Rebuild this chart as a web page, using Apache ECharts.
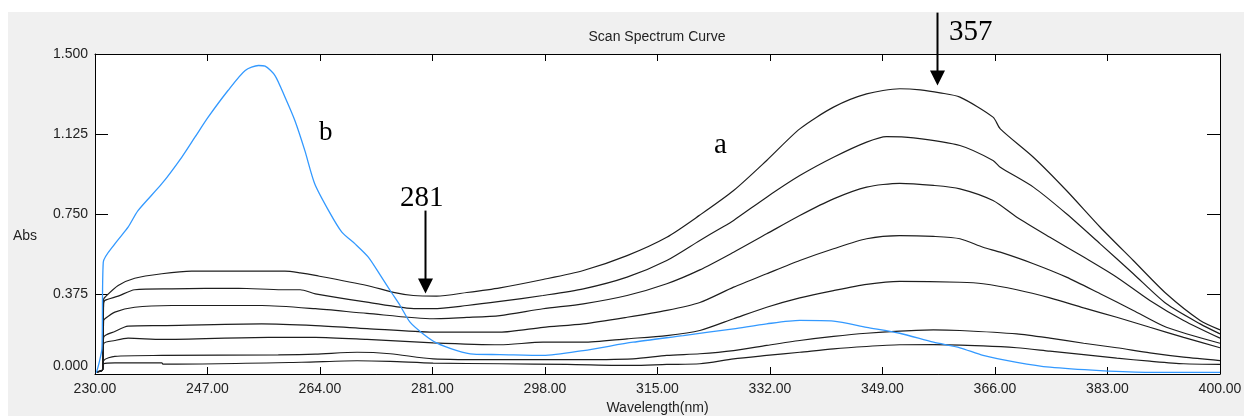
<!DOCTYPE html>
<html><head><meta charset="utf-8">
<script src="https://cdn.jsdelivr.net/npm/echarts@6/dist/echarts.min.js"></script>
<style>html,body{margin:0;padding:0;background:#fff}#c{width:1244px;height:416px}</style>
</head><body><div id="c"></div>
<script>
const xTicks = [230,247,264,281,298,315,332,349,366,383,400];
const yTicks = [0,0.375,0.75,1.125,1.5];

const curveA1 = [[230.3,0.01],[231.15,0.02],[231.3,0.35],[231.5,0.360],[233.5,0.415],[236.0,0.449],[240.1,0.470],[244.6,0.482],[258.7,0.482],[261.0,0.474],[263.3,0.462],[271.1,0.415],[275.1,0.383],[278.1,0.368],[281.6,0.365],[286.2,0.382],[291.2,0.404],[297.7,0.443],[303.8,0.485],[310.4,0.555],[316.4,0.641],[321.4,0.745],[326.5,0.860],[331.5,1.001],[336.5,1.149],[341.6,1.251],[346.6,1.313],[351.6,1.337],[354.7,1.332],[357.7,1.318],[360.7,1.298],[365.7,1.204],[366.8,1.149],[371.8,1.016],[376.8,0.860],[381.9,0.688],[386.9,0.532],[391.9,0.376],[397.0,0.251],[400,0.207]];
const curveA2 = [[230.3,0.01],[231.15,0.02],[231.3,0.33],[231.5,0.345],[233.5,0.365],[236.0,0.395],[241.6,0.399],[251.7,0.402],[258.2,0.395],[261.0,0.395],[263.3,0.376],[271.1,0.337],[278.6,0.306],[281.1,0.306],[286.2,0.321],[291.2,0.340],[297.7,0.368],[303.8,0.399],[310.4,0.454],[316.4,0.532],[321.4,0.626],[324.4,0.681],[326.5,0.720],[331.5,0.829],[336.5,0.930],[341.6,1.016],[346.6,1.087],[349.6,1.113],[353.7,1.107],[360.7,1.071],[365.7,1.001],[366.8,0.969],[371.8,0.876],[376.8,0.751],[381.9,0.610],[386.9,0.470],[391.9,0.329],[397.0,0.235],[400,0.188]];
const curveA3 = [[230.3,0.01],[231.15,0.02],[231.3,0.25],[231.5,0.259],[233.0,0.290],[236.0,0.313],[241.6,0.321],[255.2,0.321],[263.3,0.306],[271.1,0.284],[281.1,0.259],[286.2,0.265],[291.2,0.274],[297.7,0.306],[303.8,0.329],[310.4,0.368],[316.4,0.423],[321.4,0.488],[326.5,0.571],[331.5,0.657],[336.5,0.743],[341.6,0.821],[346.6,0.876],[351.6,0.894],[356.7,0.884],[360.7,0.868],[365.7,0.813],[369.3,0.735],[374.3,0.641],[379.4,0.548],[384.4,0.454],[389.4,0.345],[394.5,0.251],[400,0.168]];
const curveA4 = [[230.3,0.01],[231.15,0.02],[231.3,0.172],[233.0,0.199],[235.0,0.224],[240.1,0.227],[255.2,0.235],[263.3,0.227],[271.1,0.213],[281.1,0.196],[291.2,0.196],[297.7,0.219],[303.8,0.235],[310.4,0.266],[316.4,0.298],[321.4,0.335],[326.5,0.407],[331.5,0.470],[336.5,0.532],[341.6,0.587],[346.6,0.634],[351.6,0.649],[356.7,0.645],[360.7,0.634],[364.2,0.594],[366.8,0.571],[371.8,0.517],[376.8,0.454],[381.9,0.376],[386.9,0.298],[391.9,0.219],[400,0.144]];
const curveA5 = [[230.3,0.01],[231.15,0.02],[231.3,0.142],[233.0,0.157],[235.0,0.168],[240.1,0.162],[256.2,0.172],[263.3,0.172],[271.1,0.162],[281.1,0.146],[291.2,0.137],[297.7,0.149],[303.8,0.149],[310.4,0.165],[316.4,0.180],[321.4,0.204],[326.5,0.259],[331.5,0.313],[336.5,0.357],[341.6,0.391],[346.6,0.420],[351.6,0.434],[360.7,0.430],[364.2,0.423],[369.3,0.395],[374.3,0.357],[379.4,0.310],[384.4,0.266],[389.4,0.219],[394.5,0.172],[400,0.123]];
const curveA6 = [[230.3,0.01],[231.15,0.02],[231.3,0.063],[233.0,0.083],[240.1,0.087],[257.7,0.090],[263.3,0.093],[269.6,0.102],[274.6,0.095],[281.1,0.071],[291.2,0.067],[301.3,0.067],[311.3,0.071],[316.4,0.087],[321.4,0.095],[326.5,0.110],[331.5,0.134],[336.5,0.157],[341.6,0.176],[346.6,0.191],[351.6,0.201],[356.7,0.207],[360.7,0.204],[369.3,0.188],[374.3,0.168],[379.4,0.144],[384.4,0.123],[389.4,0.099],[394.5,0.079],[400,0.063]];
const curveA7 = [[230.3,0.01],[231.15,0.02],[231.3,0.048],[233.0,0.052],[240.1,0.052],[240.3,0.046],[261.2,0.055],[269.6,0.062],[274.6,0.059],[281.1,0.051],[291.2,0.048],[301.3,0.045],[311.3,0.040],[316.4,0.045],[321.4,0.048],[326.5,0.071],[331.5,0.087],[336.5,0.102],[341.6,0.118],[346.6,0.129],[351.6,0.137],[356.7,0.138],[364.2,0.132],[369.3,0.123],[374.3,0.107],[379.4,0.091],[384.4,0.074],[389.4,0.060],[394.5,0.048],[400,0.045]];
const curveB = [[230.2,0.005],[230.6,0.05],[231.05,0.12],[231.25,0.524],[233.0,0.610],[235.0,0.688],[236.5,0.766],[240.1,0.892],[243.1,1.016],[245.1,1.110],[247.1,1.204],[250.1,1.329],[252.7,1.423],[254.7,1.446],[255.7,1.443],[257.2,1.399],[258.7,1.298],[260.2,1.188],[261.7,1.048],[263.2,0.892],[265.3,0.766],[267.3,0.665],[269.3,0.610],[271.3,0.548],[273.3,0.454],[274.8,0.382],[276.1,0.321],[277.6,0.243],[279.6,0.188],[281.6,0.146],[284.7,0.110],[287.2,0.093],[291.2,0.091],[297.7,0.087],[303.8,0.110],[311.3,0.149],[318.9,0.180],[326.5,0.212],[331.5,0.235],[336.5,0.251],[341.6,0.248],[346.6,0.219],[351.6,0.191],[356.7,0.149],[360.7,0.123],[364.2,0.087],[369.3,0.055],[374.3,0.032],[381.9,0.016],[389.4,0.008],[400,0.008]];

const blackCurves = [curveA1, curveA2, curveA3, curveA4, curveA5, curveA6, curveA7];
// annotation anchors in data coords: [wavelength, top value, tip value]
const arrow357 = [357.3, 1.694, 1.352];
const arrow281 = [279.8, 0.766, 0.377];

const FONT = '"Liberation Sans", Arial, sans-serif';
const SERIF = '"Liberation Serif", "Times New Roman", serif';
const TXT = '#222';

const chart = echarts.init(document.getElementById('c'), null, {renderer:'canvas'});

const series = blackCurves.map((d, i) => ({
  type:'line', name:'a'+(i+1), data:d, showSymbol:false, symbol:'none', smooth:0.25,
  lineStyle:{color:'#1e1e1e', width:1.2}, z:2, animation:false
}));
series.push({type:'line', name:'b', data:curveB, showSymbol:false, symbol:'none', smooth:0.25,
  lineStyle:{color:'#3399ff', width:1.3}, z:3, animation:false});

const axisCommon = {
  axisLine:{show:true, onZero:false, lineStyle:{color:'#000', width:1}},
  splitLine:{show:false}
};

chart.setOption({
  animation:false,
  backgroundColor:'#f0f0f0',
  grid:{left:95, right:24, top:54, bottom:42, show:true, backgroundColor:'#fff', borderWidth:0, containLabel:false, outerBoundsMode:'none'},
  title:{text:'Scan Spectrum Curve', left:657, top:30, padding:0, textAlign:'center',
    textStyle:{fontFamily:FONT, fontSize:14, fontWeight:'normal', color:TXT}},
  xAxis:[
    Object.assign({type:'value', position:'bottom', min:230, max:400,
      name:'Wavelength(nm)', nameLocation:'middle', nameGap:26,
      nameTextStyle:{fontFamily:FONT, fontSize:14, color:TXT},
      axisTick:{show:true, inside:true, length:7, customValues:xTicks, lineStyle:{color:'#000'}},
      axisLabel:{show:true, customValues:xTicks, margin:8, fontFamily:FONT, fontSize:14, color:TXT,
        formatter:v=>Number(v).toFixed(2)}}, axisCommon),
    Object.assign({type:'value', position:'top', min:230, max:400,
      axisTick:{show:true, inside:true, length:7, customValues:xTicks, lineStyle:{color:'#000'}},
      axisLabel:{show:false}}, axisCommon)
  ],
  yAxis:[
    Object.assign({type:'value', position:'left', min:0, max:1.5, interval:0.375,
      axisTick:{show:true, inside:true, length:13, lineStyle:{color:'#000'}},
      axisLabel:{show:true, margin:7, fontFamily:FONT, fontSize:14, color:TXT,
        formatter:v=> v===0 ? '{z|0.000}' : Number(v).toFixed(3),
        rich:{z:{fontFamily:FONT, fontSize:14, color:TXT, padding:[0,0,15,0]}}}}, axisCommon),
    Object.assign({type:'value', position:'right', min:0, max:1.5, interval:0.375,
      axisTick:{show:true, inside:true, length:13, lineStyle:{color:'#000'}},
      axisLabel:{show:false}}, axisCommon)
  ],
  series:series
});

function arrow(id, a){
  const top = chart.convertToPixel({gridIndex:0}, [a[0], a[1]]);
  const tip = chart.convertToPixel({gridIndex:0}, [a[0], a[2]]);
  const x = Math.round(top[0]) + 0.5;
  return [
    {type:'line', id:id+'l', shape:{x1:x, y1:top[1], x2:x, y2:tip[1]-12}, style:{stroke:'#000', lineWidth:2}, z:10},
    {type:'polygon', id:id+'h', shape:{points:[[x-7.5, tip[1]-15],[x+7.5, tip[1]-15],[x, tip[1]]]}, style:{fill:'#000'}, z:10}
  ];
}

chart.setOption({
  graphic:[
    {type:'rect', id:'wt', shape:{x:0, y:0, width:1244, height:12}, style:{fill:'#fff'}, z:-1},
    {type:'rect', id:'wl', shape:{x:0, y:0, width:8, height:416}, style:{fill:'#fff'}, z:-1},
    {type:'text', id:'abs', x:13, y:236, style:{text:'Abs', fontFamily:FONT, fontSize:14, fill:TXT, verticalAlign:'middle'}},
    {type:'text', id:'t357', x:949, y:18, style:{text:'357', fontFamily:SERIF, fontSize:29, fill:'#000', verticalAlign:'top'}},
    {type:'text', id:'t281', x:400, y:184, style:{text:'281', fontFamily:SERIF, fontSize:29, fill:'#000', verticalAlign:'top'}},
    {type:'text', id:'ta', x:714, y:131, style:{text:'a', fontFamily:SERIF, fontSize:29, fill:'#000', verticalAlign:'top'}},
    {type:'text', id:'tb', x:319, y:119, style:{text:'b', fontFamily:SERIF, fontSize:27, fill:'#000', verticalAlign:'top'}}
  ].concat(arrow('a357', arrow357), arrow('a281', arrow281))
});
</script></body></html>
